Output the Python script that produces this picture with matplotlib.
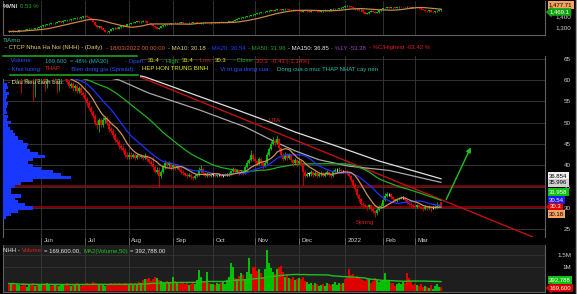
import numpy as np
import pandas as pd
import matplotlib
matplotlib.use('Agg')
import matplotlib.pyplot as plt
import matplotlib.transforms as mtrans
from matplotlib.patches import Rectangle

plt.rcParams['font.family'] = ['Liberation Sans', 'DejaVu Sans']

W, H = 577, 294

# ── trading calendar (HOSE, Tet / National day removed) ─────────
HOLIDAYS = ['2021-09-02', '2021-09-03', '2022-01-03', '2022-01-31',
            '2022-02-01', '2022-02-02', '2022-02-03', '2022-02-04']
dates = pd.bdate_range('2021-05-10', '2022-03-18')
dates = dates[~dates.isin(pd.to_datetime(HOLIDAYS))]
month_labels = ['Jun', 'Jul', 'Aug', 'Sep', 'Oct', 'Nov', 'Dec', '2022', 'Feb', 'Mar']

# ── NHH daily OHLC (one row per month) ──────────────────────────
nhh_open = [
    62.0, 61.5, 62.0, 61.0, 60.5, 61.0, 62.5, 62.0, 61.5, 60.0, 61.0, 62.0, 61.5, 60.5, 61.0, 60.0,
    60.5, 61.0, 60.5, 60.0, 61.0, 61.5, 61.0, 60.5, 61.0, 60.0, 60.5, 61.0, 61.5, 60.5, 59.5, 58.5, 59.0, 58.0, 58.5, 57.5, 58.0, 57.0,
    56.5, 55.5, 54.5, 53.5, 52.5, 51.5, 50.0, 49.5, 50.5, 49.5, 50.5, 51.0, 50.0, 48.5, 48.0, 47.0, 46.0, 45.5, 44.5, 44.0, 43.5, 42.5,
    42.0, 42.5, 42.0, 42.5, 41.8, 42.3, 42.0, 42.2, 41.8, 42.0, 41.5, 40.8, 40.2, 39.5, 38.5, 39.0, 37.5, 38.5, 39.5, 40.5, 40.0, 40.5,
    39.5, 40.0, 39.5, 39.8, 39.0, 38.5, 38.2, 37.8, 37.5, 37.8, 37.2, 37.0, 37.5, 37.8, 38.8, 39.2, 38.2, 37.6, 38.0, 37.6,
    37.8, 37.8, 37.5, 37.8, 37.8, 37.6, 37.6, 37.8, 37.8, 38.0, 38.6, 39.2, 38.5, 38.8, 38.2, 38.5, 38.2, 39.6, 40.5, 41.2, 42.5,
    41.5, 41.0, 40.2, 41.5, 40.5, 39.8, 40.5, 42.5, 43.8, 45.0, 45.8, 45.2, 46.2, 44.0, 42.5, 41.5, 42.5, 41.8, 42.5, 41.2, 40.5, 41.2,
    40.5, 41.0, 40.2, 38.5, 37.5, 38.0, 38.0, 38.5, 37.8, 38.2, 37.5, 38.0, 38.2, 37.6, 38.0, 38.5, 37.8, 37.5, 38.4, 38.8, 38.8, 39.0, 38.6,
    38.6, 38.5, 38.2, 37.5, 36.5, 35.5, 34.5, 33.0, 32.0, 31.0, 30.8, 30.5, 30.2, 30.6, 29.8, 29.3, 28.8, 29.5, 30.2,
    30.5, 31.8, 32.8, 33.2, 33.2, 32.5, 32.0, 31.6, 32.0, 32.2, 32.4, 32.4, 31.8, 31.2, 31.0, 30.6,
    30.5, 30.3, 30.6, 30.2, 30.0, 29.8, 30.3, 30.0, 30.2, 30.0, 30.0, 30.3, 30.5, 31.4,
]
nhh_high = [
    62.5, 62.5, 62.3, 61.5, 61.5, 63.0, 63.0, 62.5, 62.0, 61.5, 62.5, 62.5, 62.0, 61.5, 61.5, 61.0,
    61.5, 61.5, 61.0, 61.5, 62.0, 62.0, 61.5, 61.5, 61.5, 61.0, 61.5, 62.0, 62.0, 61.0, 60.0, 59.5, 59.5, 59.0, 59.0, 58.5, 58.5, 57.5,
    57.0, 56.0, 55.0, 54.0, 53.0, 52.0, 50.5, 51.0, 51.0, 51.3, 51.5, 51.5, 50.5, 49.0, 48.5, 47.5, 46.5, 46.0, 45.0, 44.8, 44.0, 43.0,
    43.0, 43.0, 42.9, 42.8, 42.8, 42.6, 42.7, 42.5, 42.9, 42.3, 41.8, 41.2, 42.0, 40.0, 39.6, 39.6, 39.0, 40.0, 41.2, 40.8, 41.0, 40.8,
    40.5, 40.3, 40.2, 40.0, 39.4, 38.8, 38.5, 38.2, 38.2, 38.0, 37.6, 37.9, 38.3, 39.5, 40.0, 39.4, 38.5, 38.4, 38.2, 38.2,
    38.2, 38.0, 38.1, 38.2, 38.0, 38.0, 38.1, 38.2, 38.4, 39.0, 39.6, 39.4, 39.2, 39.0, 38.9, 38.7, 40.0, 41.2, 41.8, 43.6, 42.9,
    42.0, 41.3, 42.0, 41.8, 40.8, 41.0, 43.0, 44.3, 45.8, 46.6, 46.2, 47.0, 46.5, 44.3, 42.9, 43.0, 42.8, 42.9, 42.7, 41.5, 41.7, 41.5,
    41.7, 41.2, 40.4, 38.8, 38.4, 38.5, 38.9, 38.7, 38.6, 38.4, 38.4, 38.7, 38.4, 38.4, 38.9, 38.7, 38.0, 38.8, 39.3, 39.4, 39.6, 39.2, 39.0,
    39.0, 38.8, 38.4, 37.8, 36.8, 35.8, 34.8, 33.3, 32.3, 31.4, 31.2, 30.8, 31.0, 30.8, 30.2, 29.6, 30.0, 30.6, 31.2,
    32.2, 33.5, 33.7, 33.6, 33.4, 32.7, 32.2, 32.4, 32.6, 32.8, 32.8, 32.6, 32.0, 31.5, 31.3, 31.0,
    30.9, 31.0, 30.8, 30.5, 30.3, 30.6, 30.5, 30.6, 30.4, 30.4, 30.7, 31.4, 31.0, 31.4,
]
nhh_low = [
    61.0, 61.0, 60.5, 60.0, 60.0, 60.5, 57.0, 61.0, 59.5, 59.5, 60.5, 61.0, 55.0, 56.0, 59.5, 59.5,
    60.0, 60.0, 57.5, 58.0, 60.5, 60.5, 60.0, 60.0, 57.0, 57.5, 60.0, 60.5, 60.0, 59.0, 58.0, 58.0, 57.5, 57.5, 57.0, 57.0, 56.5, 56.0,
    55.0, 54.0, 53.0, 52.0, 51.0, 49.5, 48.5, 47.8, 49.0, 49.0, 50.0, 49.5, 47.8, 47.5, 46.5, 45.5, 45.0, 43.8, 43.5, 42.8, 42.0, 41.5,
    41.5, 41.5, 41.6, 41.2, 41.5, 41.6, 41.6, 41.3, 41.4, 41.0, 40.5, 39.8, 39.0, 38.2, 38.0, 34.9, 37.0, 38.2, 39.2, 39.5, 39.5, 39.0,
    39.2, 39.0, 39.2, 38.6, 38.0, 37.8, 37.4, 37.0, 37.2, 36.8, 36.6, 36.8, 37.2, 37.6, 38.5, 37.8, 37.2, 37.3, 37.2, 37.3,
    37.4, 37.2, 37.3, 37.4, 37.3, 37.2, 37.4, 37.5, 37.6, 37.8, 38.4, 38.2, 38.2, 37.8, 38.0, 37.8, 38.0, 39.3, 40.2, 41.0, 41.0,
    40.5, 39.8, 40.0, 40.0, 39.2, 39.5, 40.3, 42.2, 43.5, 44.8, 44.6, 45.0, 43.6, 42.0, 41.0, 41.2, 41.3, 41.5, 40.8, 39.8, 40.2, 39.9,
    40.2, 39.8, 35.4, 37.0, 37.2, 37.5, 37.6, 37.3, 37.5, 37.1, 37.2, 37.6, 37.2, 37.3, 37.7, 37.4, 37.0, 37.3, 38.1, 38.3, 38.5, 38.2, 38.2,
    38.0, 37.8, 37.2, 36.0, 35.0, 34.0, 32.5, 31.5, 30.5, 30.2, 30.0, 29.6, 29.8, 29.4, 28.8, 27.9, 28.4, 29.2, 29.9,
    30.3, 31.6, 32.6, 32.8, 32.2, 31.7, 31.3, 31.4, 31.8, 32.0, 32.1, 31.5, 30.9, 30.6, 30.2, 30.1,
    30.0, 30.1, 29.9, 29.7, 29.3, 29.5, 29.6, 29.8, 29.0, 29.7, 29.8, 30.0, 30.2, 30.3,
]
nhh_close = [
    61.5, 62.0, 61.0, 60.5, 61.0, 62.5, 62.0, 61.5, 60.0, 61.0, 62.0, 61.5, 60.5, 61.0, 60.0, 60.5,
    61.0, 60.5, 60.0, 61.0, 61.5, 61.0, 60.5, 61.0, 60.0, 60.5, 61.0, 61.5, 60.5, 59.5, 58.5, 59.0, 58.0, 58.5, 57.5, 58.0, 57.0, 56.5,
    55.5, 54.5, 53.5, 52.5, 51.5, 50.0, 49.5, 50.5, 49.5, 50.5, 51.0, 50.0, 48.5, 48.0, 47.0, 46.0, 45.5, 44.5, 44.0, 43.5, 42.5, 42.0,
    42.5, 42.0, 42.5, 41.8, 42.3, 42.0, 42.2, 41.8, 42.0, 41.5, 40.8, 40.2, 39.5, 38.5, 39.0, 37.5, 38.5, 39.5, 40.5, 40.0, 40.5, 39.5,
    40.0, 39.5, 39.8, 39.0, 38.5, 38.2, 37.8, 37.5, 37.8, 37.2, 37.0, 37.5, 37.8, 38.8, 39.2, 38.2, 37.6, 38.0, 37.6, 37.8,
    37.8, 37.5, 37.8, 37.8, 37.6, 37.6, 37.8, 37.8, 38.0, 38.6, 39.2, 38.5, 38.8, 38.2, 38.5, 38.2, 39.6, 40.5, 41.2, 42.5, 41.5,
    41.0, 40.2, 41.5, 40.5, 39.8, 40.5, 42.5, 43.8, 45.0, 45.8, 45.2, 46.2, 44.0, 42.5, 41.5, 42.5, 41.8, 42.5, 41.2, 40.5, 41.2, 40.5,
    41.0, 40.2, 38.5, 37.5, 38.0, 38.0, 38.5, 37.8, 38.2, 37.5, 38.0, 38.2, 37.6, 38.0, 38.5, 37.8, 37.5, 38.4, 38.8, 38.8, 39.0, 38.6, 38.6,
    38.5, 38.2, 37.5, 36.5, 35.5, 34.5, 33.0, 32.0, 31.0, 30.8, 30.5, 30.2, 30.6, 29.8, 29.3, 28.8, 29.5, 30.2, 30.5,
    31.8, 32.8, 33.2, 33.2, 32.5, 32.0, 31.6, 32.0, 32.2, 32.4, 32.4, 31.8, 31.2, 31.0, 30.6, 30.5,
    30.3, 30.6, 30.2, 30.0, 29.8, 30.3, 30.0, 30.2, 30.0, 30.0, 30.3, 30.5, 30.71, 30.3,
]
# daily volume, thousand shares
nhh_volume_k = [
    320, 280, 350, 240, 300, 260, 210, 330, 290, 180, 250, 300, 340, 220, 270, 310,
    260, 300, 240, 350, 280, 200, 230, 310, 270, 190, 260, 290, 240, 320, 280, 210, 300, 250, 330, 270, 220, 260,
    290, 340, 300, 280, 360, 330, 250, 310, 270, 240, 200, 260, 300, 340, 280, 320, 290, 350, 310, 260, 330, 300,
    280, 320, 260, 350, 300, 380, 340, 450, 520, 480, 560, 430, 500, 580, 550, 470, 400, 380, 350, 420, 390, 360,
    580, 420, 350, 300, 380, 320, 280, 350, 260, 300, 330, 280, 450, 870, 600, 420, 380, 800, 350, 300,
    300, 250, 320, 280, 350, 400, 300, 450, 600, 1170, 980, 550, 480, 620, 750, 680, 520, 800, 1370, 700, 1000,
    1000, 850, 900, 750, 600, 900, 1700, 1150, 950, 800, 700, 900, 1000, 1050, 800, 600, 700, 550, 500, 600, 450, 500,
    550, 480, 600, 420, 380, 300, 350, 250, 320, 280, 200, 260, 300, 220, 350, 280, 240, 300, 380, 260, 320, 280, 350,
    520, 600, 900, 650, 700, 550, 620, 580, 500, 450, 400, 520, 480, 350, 400, 550, 450, 380, 420,
    400, 760, 450, 400, 350, 320, 200, 280, 350, 300, 360, 320, 760, 550, 400, 250,
    300, 250, 200, 280, 150, 220, 180, 120, 250, 100, 200, 280, 150, 169.6,
]
# VN-Index close (top strip)
vni_close = [
    1262, 1258, 1266, 1255, 1262, 1270, 1274, 1270, 1278, 1282, 1285, 1288, 1284, 1290, 1296, 1300,
    1310, 1318, 1325, 1330, 1335, 1340, 1336, 1345, 1350, 1355, 1348, 1360, 1365, 1370, 1366, 1375, 1380, 1385, 1390, 1386, 1395, 1405,
    1410, 1400, 1385, 1370, 1350, 1320, 1300, 1310, 1290, 1275, 1260, 1252, 1265, 1280, 1290, 1295, 1285, 1300, 1310, 1320, 1315, 1330,
    1335, 1340, 1345, 1350, 1355, 1348, 1352, 1360, 1355, 1345, 1340, 1330, 1315, 1300, 1285, 1295, 1310, 1320, 1330, 1335, 1330, 1340,
    1340, 1345, 1338, 1342, 1348, 1345, 1340, 1336, 1342, 1345, 1350, 1346, 1340, 1335, 1338, 1342, 1345, 1340, 1338, 1344,
    1342, 1348, 1345, 1350, 1352, 1348, 1346, 1350, 1355, 1352, 1360, 1370, 1380, 1385, 1390, 1395, 1400, 1405, 1410, 1412, 1420,
    1425, 1430, 1438, 1442, 1440, 1448, 1452, 1455, 1460, 1458, 1465, 1470, 1468, 1462, 1470, 1475, 1472, 1466, 1460, 1465, 1458, 1455,
    1450, 1445, 1455, 1460, 1452, 1448, 1455, 1462, 1458, 1450, 1445, 1452, 1460, 1465, 1458, 1462, 1470, 1475, 1468, 1472, 1480, 1485, 1490,
    1500, 1505, 1498, 1495, 1485, 1470, 1475, 1460, 1465, 1440, 1425, 1430, 1445, 1455, 1448, 1435, 1440, 1460, 1470,
    1478, 1482, 1488, 1485, 1490, 1492, 1486, 1490, 1495, 1492, 1488, 1490, 1495, 1492, 1485, 1488,
    1490, 1485, 1478, 1470, 1465, 1458, 1450, 1460, 1445, 1440, 1450, 1455, 1462, 1469.1,
]

# long MAs (their history starts before the window)
ma100_idx = [30, 55, 70, 95, 118, 133, 143, 155, 170, 190, 216]
ma100_val = [62.5, 60.0, 56.9, 53.0, 49.0, 45.5, 43.4, 41.3, 39.8, 38.8, 36.0]
ma150_idx = [40, 68, 90, 115, 130, 143, 165, 185, 200, 216]
ma150_val = [63.5, 60.7, 57.0, 52.8, 50.2, 47.8, 44.3, 41.0, 39.0, 36.85]

# volume-at-price profile (price level, thousand shares)
vp_price = [59.0, 58.3, 57.5, 56.8, 56.0, 55.3, 54.5, 53.8, 53.0, 52.3, 51.5, 50.8, 50.1, 49.3, 48.6,
            47.8, 47.1, 46.4, 45.6, 44.9, 44.2, 43.5, 42.7, 42.0, 41.3, 40.6, 39.9, 39.2, 38.5, 37.8,
            37.1, 36.4, 35.7, 35.0, 34.3, 33.6, 32.8, 32.1, 31.4, 30.7, 30.0, 29.3, 28.6, 27.9]
vp_volume = [100, 125, 75, 150, 100, 75, 125, 100, 75, 100, 125, 100, 200, 125, 175,
             250, 300, 375, 500, 625, 600, 675, 875, 1050, 750, 625, 750, 950, 1250, 1450,
             1700, 750, 450, 300, 200, 200, 450, 300, 375, 550, 750, 375, 200, 75]

# drawn annotations
support_levels = [35.1, 30.3]
trend_idx = [65, 262]
trend_price = [60.8, 23.2]
arrow_idx = [218, 231.5]
arrow_price = [31.4, 44.8]

# ── colours ─────────────────────────────────────────────────────
UP, DOWN, FLAT = '#00c000', '#e00000', '#f0f0f0'
GRID = '#3a3a3a'
TXT = '#d0d0d0'
FS = 4.3

o = np.array(nhh_open); h = np.array(nhh_high); l = np.array(nhh_low); c = np.array(nhh_close)
vol = np.array(nhh_volume_k) * 1000
vni = np.array(vni_close, dtype=float)
n = len(dates)
x = np.arange(n)
period = dates.to_period('M')
month_idx = np.flatnonzero(period[1:] != period[:-1]) + 1

ma10 = pd.Series(c).rolling(10, min_periods=1).mean()
ma20 = pd.Series(c).rolling(20, min_periods=1).mean()
ma50 = pd.Series(c).rolling(50, min_periods=1).mean()
vol_ma50 = pd.Series(vol).rolling(50, min_periods=1).mean()
vni_ma = pd.Series(vni).rolling(20, min_periods=1).mean()

fig = plt.figure(figsize=(W / 100, H / 100), dpi=100, facecolor='black')
renderer = fig.canvas.get_renderer()


def add_ax(x0, y0, x1, y1, bg='black'):
    ax = fig.add_axes([x0 / W, 1 - y1 / H, (x1 - x0) / W, (y1 - y0) / H])
    ax.set_facecolor(bg)
    for s in ax.spines.values():
        s.set_color('#606060')
        s.set_linewidth(0.8)
    ax.spines['top'].set_visible(False)
    ax.set_xlim(-3, 268)
    ax.set_xticks(month_idx)
    ax.grid(axis='x', color=GRID, lw=0.6)
    ax.set_axisbelow(True)
    ax.yaxis.tick_right()
    ax.tick_params(axis='y', length=0, pad=18.7, labelsize=4.5, labelcolor=TXT)
    ax.tick_params(axis='x', length=0, labelbottom=False)
    return ax


def right_align(ax):
    for t in ax.get_yticklabels():
        t.set_horizontalalignment('right')


def txt(px, py, s, color, size=FS, **kw):
    return fig.text(px / W, 1 - py / H, s, color=color, fontsize=size, va='center', **kw)


def text_row(py, items, gap=2.5):
    # place coloured pieces left to right, never letting them overlap
    cursor = -99
    for px, s, cc in items:
        t = txt(max(px, cursor + gap), py, s, cc)
        cursor = t.get_window_extent(renderer).x1


def tag(py, s, fc, tc, arrow=False, px=549):
    style = 'larrow,pad=0.22' if arrow else 'square,pad=0.22'
    txt(px, py, s, tc, size=4.3, bbox=dict(boxstyle=style, fc=fc, ec='none'), zorder=10)


def candles(ax, o, h, l, c, min_body):
    col = np.where(c > o, UP, np.where(c < o, DOWN, FLAT))
    ax.vlines(x, l, h, colors=col, lw=0.6, zorder=3)
    body = np.maximum(np.abs(c - o), min_body)
    ax.bar(x, body, 0.75, bottom=np.minimum(o, c), color=col, lw=0, zorder=3)
    return col


# ── VN-Index strip ──────────────────────────────────────────────
ax_vni = add_ax(3, 1, 545, 35)
ax_vni.set_ylim(1227, 1548)
ax_vni.set_yticks([1300, 1400])
ax_vni.set_yticklabels(['1,300', '1,400'])
right_align(ax_vni)
vni_prev = np.r_[vni[0], vni[:-1]]
candles(ax_vni, vni_prev, np.maximum(vni, vni_prev) + 4, np.minimum(vni, vni_prev) - 4, vni, 3)
ax_vni.plot(x, vni_ma, color='#c8864a', lw=0.9, zorder=4)
txt(3, 6, '%VNI', '#e0e0e0', weight='bold')
txt(20, 6, '0.53 %', '#20b020')
tag(5, '1,477.71', '#f4a460', 'black', px=549)
tag(12, '1,469.1', '#10a010', 'white', arrow=True, px=550)

# ── header ──────────────────────────────────────────────────────
txt(3, 41, 'TiAmo', '#30b8a0', size=4.6)
text_row(48, [(5, '- CTCP Nhua Ha Noi (NHH) - (Daily)', '#e0d070'),
              (106, '- 18/03/2022 00:00:00', '#e06030'),
              (167, '- MA10: 30.18', '#e0d070'),
              (200, '- MA20: 30.54', '#2040ff'),
              (237, '- MA50: 31.96', '#20a020'),
              (276, '- MA150: 36.85', '#e8e8e8'),
              (317, '- %1Y -53.38', '#a040c0'),
              (360, '- %C/Highest -63.42 %', '#e02020')])
fig.add_artist(plt.Line2D([3 / W, 137 / W], [1 - 56 / H] * 2, color='#20a020', lw=1.2))

# ── price panel ────────────────────────────────────────────────
ax = add_ax(3, 56, 545, 237)
ax.set_ylim(23.21, 65.6)
ax.set_yticks(np.arange(25, 66, 5))
right_align(ax)
ax.grid(axis='y', color=GRID, lw=0.6)
ax.tick_params(axis='x', length=8, color='#707070', width=0.6)
ax.spines['bottom'].set_visible(False)

for lvl in support_levels:
    ax.axhline(lvl, color='#a00000', lw=1.1, zorder=2)
ax.plot(trend_idx, trend_price, color='#c01010', lw=1.0, zorder=2)
ax.plot(ma150_idx, ma150_val, color='#e0e0e0', lw=0.9, zorder=2)
ax.plot(ma100_idx, ma100_val, color='#a8a8a8', lw=0.9, zorder=2)
ax.plot(x, ma50, color='#20b020', lw=0.9, zorder=2)
ax.plot(x, ma20, color='#2030ff', lw=0.9, zorder=4)
ax.plot(x, ma10, color='#d0905a', lw=0.9, zorder=4)
col = candles(ax, o, h, l, c, 0.12)
ax.annotate('', xy=(arrow_idx[1], arrow_price[1]), xytext=(arrow_idx[0], arrow_price[0]),
            arrowprops=dict(arrowstyle='-|>', color='#22c022', lw=1.0, mutation_scale=7))
ax.text(133, 50.6, 'UTA', color='#d02020', fontsize=4.6, ha='center', va='center')
ax.text(178, 26.6, 'Spring', color='#d02020', fontsize=4.6, ha='center', va='center')

# header block over the top-left corner of the chart
ax.add_patch(Rectangle((0, 0.873), 0.253, 0.127, transform=ax.transAxes,
                       fc='black', ec='none', zorder=6))

bt = mtrans.blended_transform_factory(ax.transData, ax.transAxes)
for i, lab in zip(month_idx, month_labels):
    ax.text(i + 1.2, -0.022, lab, transform=bt, color=TXT, fontsize=4.5, va='center')

# volume at price profile
ax_vp = fig.add_axes(ax.get_position())
ax_vp.set_ylim(ax.get_ylim())
ax_vp.set_xlim(0, 542 * 25)
ax_vp.axis('off')
ax_vp.barh(vp_price, vp_volume, height=0.76, color='#1838ff', lw=0)

# indicator lines over the chart
text_row(61, [(7, '- Volume:', '#3050ff'), (45, '169,600  = 48% (MA30)', '#20b0b0'),
              (125, '- Open:', '#3050ff'), (146, '31.4', '#e8e000'),
              (160, '- High:', '#20b020'), (178, '31.4', '#e8e000'),
              (195, '- Low:', '#c02020'), (211, '30.3', '#e8e000'),
              (233, '- Close:', '#20b020'), (255, '30.3  -0.41 (-1.34%)', '#e02020')])
text_row(69, [(8, '- Khoi luong:', '#3050ff'), (45, 'THAP', '#e02020'),
              (66, '-  Bien dong gia (Spread):', '#3050ff'), (142, 'HEP HON TRUNG BINH', '#f0f000'),
              (215, '-  Vi tri gia dong cua:', '#3050ff'), (277, 'Dong cua o muc THAP NHAT cay nen', '#20c0b0')])
fig.add_artist(plt.Line2D([10 / W, 138 / W], [1 - 75 / H] * 2, color='#20a020', lw=1.2))
txt(8, 83, '- Dau hieu canh bao:', '#e8e8a8')

tag(176, '36.854', '#f0f0f0', 'black')
tag(183, '35.996', '#d0d0d0', 'black')
tag(192, '31.958', '#10c010', 'white')
tag(200, '30.54', '#1a1aff', 'white')
tag(207, '30.3', '#e00000', 'white', arrow=True, px=550)
tag(214, '30.18', '#f4a460', 'black')

# ── volume panel ───────────────────────────────────────────────
ax_v = add_ax(3, 245, 545, 292, bg='#1e1e1e')
ax_v.set_ylim(-42e3, 1.917e6)
ax_v.set_yticks([1e6, 1.5e6])
ax_v.set_yticklabels(['1M', '1.5M'])
right_align(ax_v)
ax_v.grid(axis='y', color='#333333', lw=0.6)
vcol = np.where(col == FLAT, UP, col)
ax_v.bar(x, vol, 0.7, color=vcol, lw=0, zorder=3)
ax_v.plot(x, vol_ma50, color='#20c020', lw=1.0, zorder=4)
text_row(251, [(3, 'NHH -', '#e8e8e8'), (17, 'Volume', '#e02020'), (35, '= 169,600.00,', '#e8e8e8'),
               (83, 'MA2(Volume,50)', '#20c020'), (128, '= 392,788.00', '#e8e8e8')], gap=2)
tag(280, '392,788', '#10c010', 'white')
tag(288, '169,600', '#e00000', 'white', arrow=True, px=550)

fig.add_artist(plt.Line2D([575.5 / W] * 2, [0, 1], color='#9a9a9a', lw=1.0))

fig.savefig('out.png', dpi=100, facecolor='black')
